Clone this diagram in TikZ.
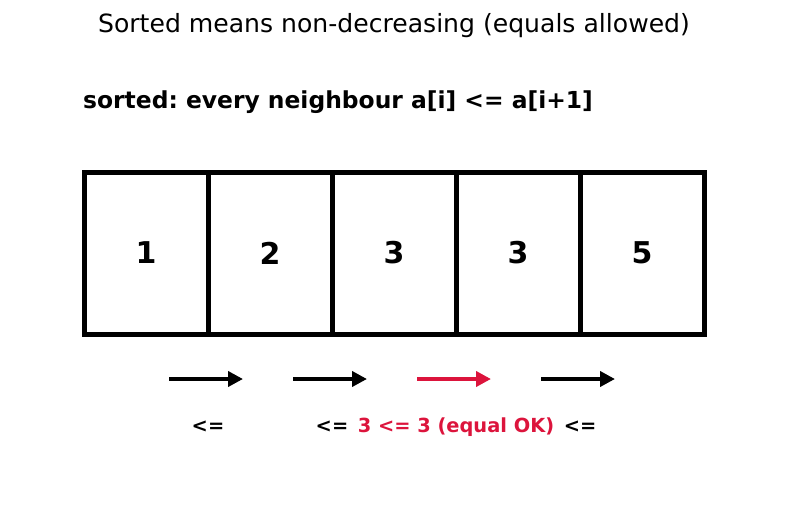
\documentclass[tikz,border=0pt]{standalone}
\usepackage{fontspec}
\setmainfont{DejaVu Sans}
\usetikzlibrary{positioning, arrows.meta}

\definecolor{eqred}{HTML}{DC143C}
\frenchspacing

\begin{document}
\begin{tikzpicture}[x=1pt, y=-1pt,
    cell/.style={draw, line width=5pt, minimum width=124pt, minimum height=162pt,
        font=\fontsize{30}{36}\bfseries\selectfont},
    cmp/.style={line width=4.5pt, -{Triangle[length=15pt, width=15pt]}},
    cmplabel/.style={font=\fontsize{19.4}{23}\bfseries\selectfont, inner sep=0pt}]
    \useasboundingbox (0,0) rectangle (787,511);

    % Headings
    \node[font=\fontsize{25.1}{30}\selectfont] (title) at (394,26) {Sorted means non-decreasing (equals allowed)};
    \node[font=\fontsize{23.4}{28}\bfseries\selectfont, anchor=west, inner sep=0pt] (rule) at (83,102) {sorted: every neighbour a[i] <= a[i+1]};

    % Array cells
    \node[cell] (c1) at (146,253) {1};
    \node[cell] (c2) at (270,253) {2};
    \node[cell] (c3) at (394,253) {3};
    \node[cell] (c4) at (518,253) {3};
    \node[cell] (c5) at (642,253) {5};

    % Comparison arrows between neighbours
    \coordinate (p1) at (169,379);
    \coordinate (q1) at (243,379);
    \coordinate (p2) at (293,379);
    \coordinate (q2) at (367,379);
    \coordinate (p3) at (417,379);
    \coordinate (q3) at (491,379);
    \coordinate (p4) at (541,379);
    \coordinate (q4) at (615,379);
    \draw[cmp] (p1) -- (q1);
    \draw[cmp] (p2) -- (q2);
    \draw[cmp, eqred] (p3) -- (q3);
    \draw[cmp] (p4) -- (q4);

    % Comparison labels
    \node[cmplabel] (l1) at (208,427) {<=};
    \node[cmplabel] (l2) at (332,427) {<=};
    \node[cmplabel, text=eqred] (l3) at (456,427) {3 <= 3 (equal OK)};
    \node[cmplabel] (l4) at (580,427) {<=};
\end{tikzpicture}
\end{document}
